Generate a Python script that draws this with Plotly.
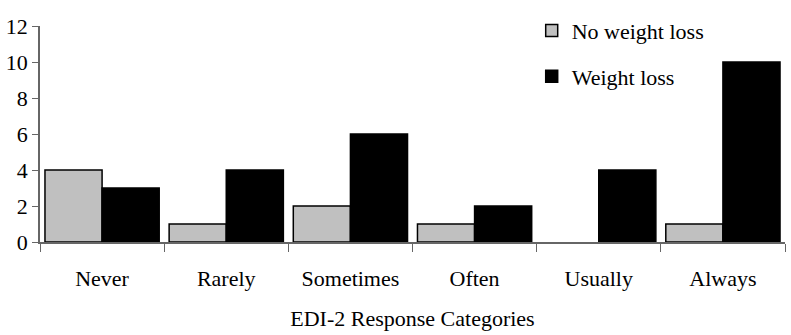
import plotly.graph_objects as go

categories = ["Never", "Rarely", "Sometimes", "Often", "Usually", "Always"]
no_weight_loss = [4, 1, 2, 1, 0, 1]
weight_loss = [3, 4, 6, 2, 4, 10]
y_ticks = [0, 2, 4, 6, 8, 10, 12]

SERIF = "'Times New Roman', 'Liberation Serif', 'DejaVu Serif', serif"
font = dict(family=SERIF, size=22, color="black")

fig = go.Figure()
fig.add_trace(go.Bar(x=categories, y=no_weight_loss, name="No weight loss",
                     marker=dict(color="#c0c0c0",
                                 line=dict(color="black",
                                           width=[1.5 if v > 0 else 0 for v in no_weight_loss])),
                     legendgroup="a"))
fig.add_trace(go.Bar(x=categories, y=weight_loss, name="Weight loss",
                     marker=dict(color="black", line=dict(color="black", width=1.5)),
                     legendgroup="b"))

fig.update_layout(
    width=791, height=335,
    margin=dict(l=38, r=6, t=26, b=93),
    paper_bgcolor="white", plot_bgcolor="white",
    font=font,
    barmode="group", bargap=0.08, bargroupgap=0,
    showlegend=True,
    legend=dict(x=0.66, y=1.075, xanchor="left", yanchor="top",
                bgcolor="rgba(0,0,0,0)", tracegroupgap=14,
                font=dict(family=SERIF, size=22), itemwidth=30),
    xaxis=dict(title=dict(text="EDI-2 Response Categories",
                          font=dict(family=SERIF, size=22), standoff=20),
               showline=True, linecolor="#666666", linewidth=1.5,
               ticks="outside", tickson="boundaries", ticklen=8, tickcolor="#666666",
               ticklabelstandoff=16,
               tickfont=dict(family=SERIF, size=22), showgrid=False),
    yaxis=dict(range=[0, 12], tickvals=y_ticks, showline=True, linecolor="#666666",
               linewidth=1.5, ticks="outside", ticklen=6, tickcolor="#666666",
               tickfont=dict(family=SERIF, size=22), showgrid=False, zeroline=False),
)

fig.write_html("out.html")
